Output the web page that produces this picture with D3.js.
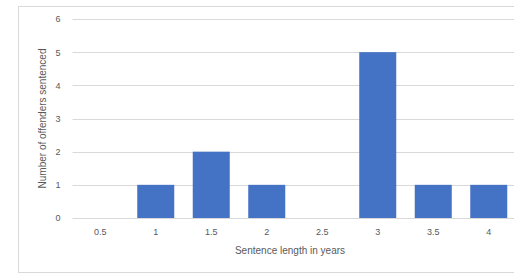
<!DOCTYPE html>
<html>
<head>
<meta charset="utf-8">
<script src="https://cdn.jsdelivr.net/npm/d3@7"></script>
<style>
  html, body { margin: 0; padding: 0; background: #fff; overflow: hidden; }
  text { font-family: "Liberation Sans", Arial, sans-serif; fill: #595959; }
</style>
</head>
<body>
<div id="chart"></div>
<script>
const categories = ["0.5", "1", "1.5", "2", "2.5", "3", "3.5", "4"];
const counts = [0, 1, 2, 1, 0, 5, 1, 1];
const yTicks = [0, 1, 2, 3, 4, 5, 6];

const W = 514, H = 274;
const plot = { left: 72.5, right: 516.5, top: 19, bottom: 218 };

const svg = d3.select("#chart").append("svg")
  .attr("width", W)
  .attr("height", H);

// chart frame
svg.append("rect")
  .attr("x", 18.5).attr("y", 6.5)
  .attr("width", 510).attr("height", 266)
  .attr("fill", "#fff")
  .attr("stroke", "#d9d9d9");

const x = d3.scaleBand()
  .domain(categories)
  .range([plot.left, plot.right])
  .paddingInner(1 / 3)
  .paddingOuter(1 / 6);

const y = d3.scaleLinear()
  .domain([0, 6])
  .range([plot.bottom, plot.top]);

// gridlines
svg.append("g")
  .selectAll("line")
  .data(yTicks)
  .join("line")
  .attr("x1", plot.left).attr("x2", plot.right)
  .attr("y1", d => Math.round(y(d)) + 0.5)
  .attr("y2", d => Math.round(y(d)) + 0.5)
  .attr("stroke", "#d9d9d9")
  .attr("stroke-width", 1);

// bars
svg.append("g")
  .selectAll("rect")
  .data(categories.map((c, i) => ({ c, v: counts[i] })))
  .join("rect")
  .attr("x", d => x(d.c))
  .attr("width", x.bandwidth())
  .attr("y", d => y(d.v))
  .attr("height", d => y(0) - y(d.v))
  .attr("fill", "#4472c4");

// y axis labels
const yAxis = svg.append("g")
  .attr("transform", `translate(${plot.left - 8},0)`)
  .call(d3.axisLeft(y).tickValues(yTicks).tickFormat(d3.format("d")).tickSize(0).tickPadding(4));
yAxis.select(".domain").remove();
yAxis.selectAll("text")
  .style("font-family", "Liberation Sans, Arial, sans-serif")
  .style("font-size", "9px")
  .attr("fill", "#595959");

// x axis labels
const xAxis = svg.append("g")
  .attr("transform", `translate(0,${plot.bottom + 11})`)
  .call(d3.axisBottom(x).tickSize(0).tickPadding(0));
xAxis.select(".domain").remove();
xAxis.selectAll("text")
  .style("font-family", "Liberation Sans, Arial, sans-serif")
  .style("font-size", "9px")
  .attr("fill", "#595959");

// axis titles
svg.append("text")
  .attr("x", 290)
  .attr("y", 254)
  .attr("text-anchor", "middle")
  .style("font-size", "10px")
  .text("Sentence length in years");

svg.append("text")
  .attr("transform", `translate(46,${(plot.top + plot.bottom) / 2}) rotate(-90)`)
  .attr("text-anchor", "middle")
  .style("font-size", "10px")
  .text("Number of offenders sentenced");
</script>
</body>
</html>
